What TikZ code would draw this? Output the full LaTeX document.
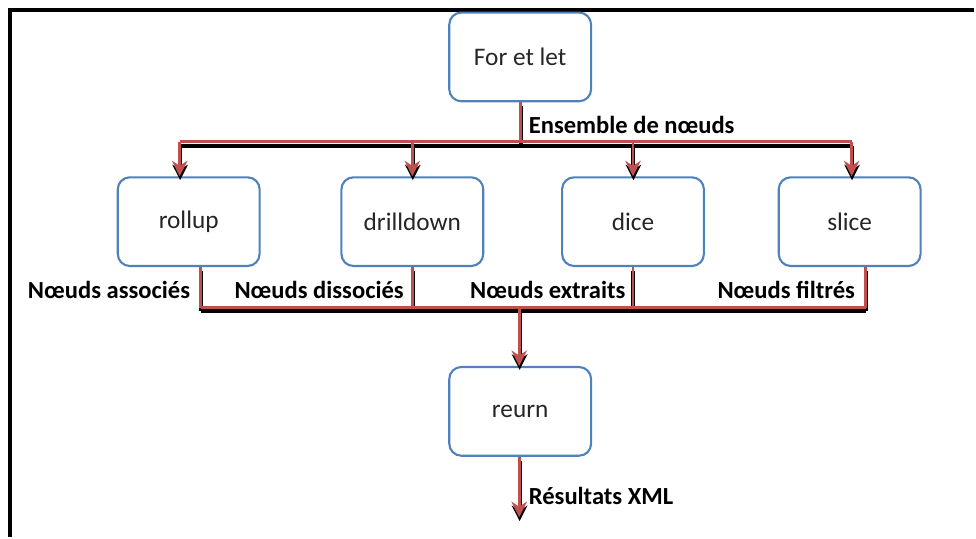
\documentclass[tikz,border=0pt]{standalone}
\usepackage{fontspec}
\setmainfont{Carlito}
\usetikzlibrary{positioning}
\usetikzlibrary{arrows.meta}

\definecolor{boxblue}{RGB}{79,129,189}
\definecolor{flowred}{RGB}{192,80,77}

\begin{document}
\begin{tikzpicture}[
        x=0.025cm, y=-0.025cm,
        % Standard style for the operation boxes
        opbox/.style={
            draw=boxblue,
            line width=1.5pt,
            fill=white,
            rectangle,
            rounded corners=0.3cm,
            minimum width=3.55cm,
            minimum height=2.22cm,
            font=\fontsize{18}{21}\selectfont,
            text=black!85,
            inner sep=2pt
        },
        flow/.style={
            draw=flowred,
            line width=2pt,
            preaction={draw=black, line width=2.8pt,
                transform canvas={shift={(0.3pt,-2.8pt)}}}
        },
        flowarrow/.style={
            flow,
            -{Stealth[length=11pt,width=11pt]}
        },
        flowlabel/.style={
            font=\bfseries\fontsize{17.5}{20}\selectfont,
            inner sep=1pt
        }
        ]

        % frame
        \coordinate (frametl) at (10,10);
        \draw[line width=2.2pt] (976,10) -- (frametl) -- (10,538);
        \useasboundingbox (0,0) rectangle (976,538);

        \node [opbox] (forlet) at (521,57) {For et let};

        \node [opbox] (rollup) at (189,222) {rollup};
        \node [opbox] (drilldown) at (413,222) {drilldown};
        \node [opbox] (dice) at (634,222) {dice};
        \node [opbox] (slice) at (851,222) {slice};

        \node [opbox] (reurn) at (521,412) {reurn};

        % top bus
        \coordinate (topbus) at (521,142);
        \coordinate (topleft) at (180,142);
        \coordinate (topright) at (853,142);
        \draw [flow] (forlet.south) -- (topbus);
        \draw [flow] (topleft) -- (topright);
        \draw [flowarrow] (topleft) -- (rollup.north -| topleft);
        \draw [flowarrow] (drilldown.north |- topbus) -- (drilldown.north);
        \draw [flowarrow] (dice.north |- topbus) -- (dice.north);
        \draw [flowarrow] (topright) -- (slice.north -| topright);
        \node [flowlabel, anchor=west] (ensemble) at (528,125) {Ensemble de nœuds};

        % bottom bus
        \coordinate (botleft) at (201,308);
        \coordinate (botright) at (867,308);
        \coordinate (botbus) at (520,308);
        \draw [flow] (rollup.south -| botleft) -- (botleft);
        \draw [flow] (drilldown.south) -- (drilldown.south |- botbus);
        \draw [flow] (dice.south) -- (dice.south |- botbus);
        \draw [flow] (slice.south -| botright) -- (botright);
        \draw [flow] (botleft) -- (botright);
        \draw [flowarrow] (botbus) -- (reurn.north -| botbus);

        \node [flowlabel, anchor=east] (assoc) at (192,290) {Nœuds associés};
        \node [flowlabel, anchor=east] (dissoc) at (406,290) {Nœuds dissociés};
        \node [flowlabel, anchor=east] (extrait) at (628,290) {Nœuds extraits};
        \node [flowlabel, anchor=east] (filtre) at (858,290) {Nœuds filtrés};

        % result
        \coordinate (result) at (520,518);
        \draw [flowarrow] (reurn.south -| result) -- (result);
        \node [flowlabel, anchor=west] (xml) at (528,497) {Résultats XML};
\end{tikzpicture}
\end{document}
